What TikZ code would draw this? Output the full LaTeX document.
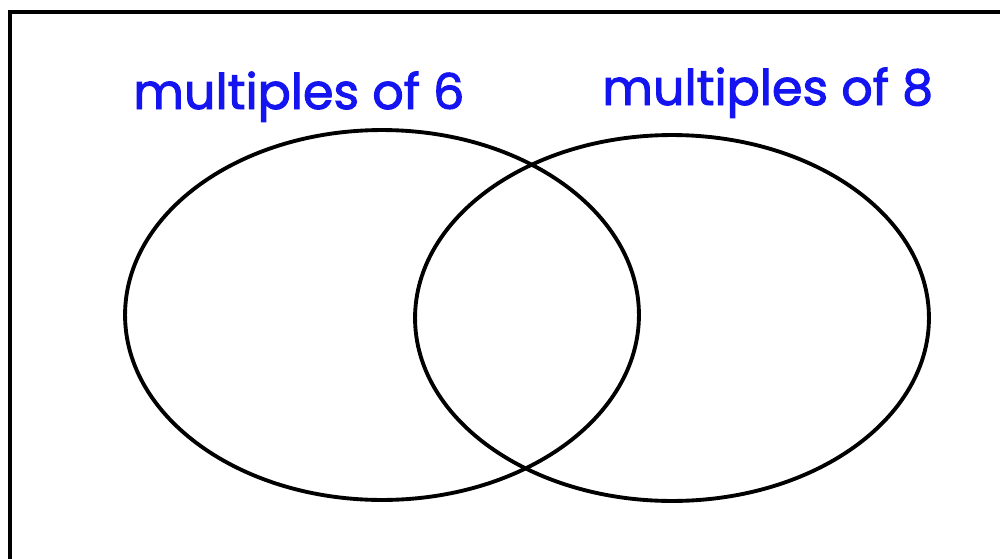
\documentclass[tikz,border=0pt]{standalone}
\usepackage{fontspec}
\setmainfont{Poppins}
\newfontfamily\labelfont{Poppins}[FakeBold=2]
\usepackage{xcolor}
\usetikzlibrary{shapes.geometric, positioning}
\definecolor{setblue}{RGB}{20,20,240}
\tikzset{
  setring/.style={ellipse, draw=black, line width=2.2pt, inner sep=0pt},
  setname/.style={text=setblue, font=\labelfont\fontsize{28}{34}\selectfont, inner sep=0pt, anchor=base west},
  frameline/.style={line width=2.6pt, draw=black},
}

\begin{document}
\begin{tikzpicture}[x=0.02cm, y=-0.02cm]
  \useasboundingbox (0,0) rectangle (1000,558);
  \clip (0,0) rectangle (1000,558);
  \fill[white] (0,0) rectangle (1000,558);
  \draw[frameline] (10,12) rectangle (1060,600);

  \node[setring, minimum width=10.28cm, minimum height=7.4cm]  (six)   at (382,315) {};
  \node[setring, minimum width=10.28cm, minimum height=7.32cm] (eight) at (672,318) {};

  \node[setname] (lblsix)   at (133,109) {multiples of 6};
  \node[setname] (lbleight) at (602,105) {multiples of 8};
\end{tikzpicture}
\end{document}
